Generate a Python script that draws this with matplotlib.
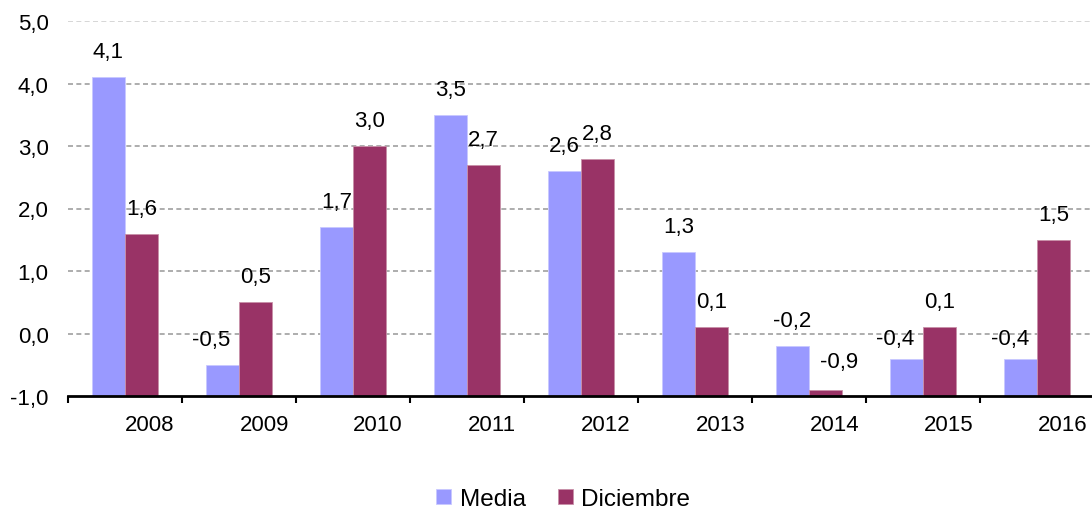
import matplotlib
matplotlib.use("Agg")
import matplotlib.pyplot as plt
import numpy as np

years = ["2008", "2009", "2010", "2011", "2012", "2013", "2014", "2015", "2016"]
media = [4.1, -0.5, 1.7, 3.5, 2.6, 1.3, -0.2, -0.4, -0.4]
diciembre = [1.6, 0.5, 3.0, 2.7, 2.8, 0.1, -0.9, 0.1, 1.5]
series_names = ["Media", "Diciembre"]
colors = ["#9999FF", "#993366"]

plt.rcParams['font.family'] = ['Liberation Sans', 'DejaVu Sans']
FS = 16

fig = plt.figure(figsize=(10.92, 5.10), dpi=100)
ax = fig.add_axes([68/1092, 1-397/510, 1-68/1092+0.002, (397-22)/510])

ymin, ymax = -1.0, 5.0
x = np.arange(len(years))
w = 0.29

# grid
for yv in np.arange(-1.0, 5.01, 1.0):
    if yv == ymin:
        continue
    col = "#d0d0d0" if yv == ymax else "#a0a0a0"
    ax.axhline(yv, color=col, lw=1.2, ls=(0, (3, 2)), zorder=0)

bars_m = ax.bar(x - w/2, np.array(media) - ymin, width=w, bottom=ymin,
                color=colors[0], edgecolor="#c8c8ff", lw=0.6, label=series_names[0], zorder=2)
bars_d = ax.bar(x + w/2, np.array(diciembre) - ymin, width=w, bottom=ymin,
                color=colors[1], edgecolor="#c890a8", lw=0.6, label=series_names[1], zorder=2)

# label offsets (px) to mimic overlap avoidance
dx_m = {1: -11, 7: -11, 8: -11}
dy_m = {7: -5, 8: -5}
dx_d = {6: 13}
dy_d = {6: 3}

def fmt(v):
    return f"{v:.1f}".replace(".", ",")

for i, v in enumerate(media):
    ax.annotate(fmt(v), (x[i] - w/2, v), xytext=(dx_m.get(i, 0)*0.72, (15 + dy_m.get(i, 0))*0.72),
                textcoords="offset points", ha="center", va="bottom", fontsize=FS)
for i, v in enumerate(diciembre):
    ax.annotate(fmt(v), (x[i] + w/2, v), xytext=(dx_d.get(i, 0)*0.72, (15 + dy_d.get(i, 0))*0.72),
                textcoords="offset points", ha="center", va="bottom", fontsize=FS)

ax.set_ylim(ymin, ymax)
ax.set_xlim(-0.5, len(years) - 0.5)
ax.set_yticks(np.arange(-1.0, 5.01, 1.0))
ax.set_yticklabels([fmt(v) for v in np.arange(-1.0, 5.01, 1.0)], fontsize=FS)
ax.tick_params(axis='y', length=0, pad=14)

# x ticks: marks at boundaries, labels near centers (shifted right as in the source)
ax.set_xticks(np.arange(-0.5, len(years), 1.0))
ax.set_xticklabels([])
ax.tick_params(axis='x', which='major', length=5, width=1.5, direction='out', color='black')
ax.set_xticks(x + 0.22, minor=True)
ax.set_xticklabels(years, minor=True, fontsize=FS)
ax.tick_params(axis='x', which='minor', length=0, pad=13)

for s in ["top", "right", "left"]:
    ax.spines[s].set_visible(False)
ax.spines["bottom"].set_linewidth(2)
ax.spines["bottom"].set_color("black")

fig.legend(handles=[bars_m, bars_d], labels=series_names, loc="center",
           bbox_to_anchor=(0.516, 0.019), ncol=2, frameon=False, fontsize=17.5,
           handlelength=0.6, handleheight=0.6, handletextpad=0.35, columnspacing=1.35)

fig.savefig("out.png", dpi=100)
